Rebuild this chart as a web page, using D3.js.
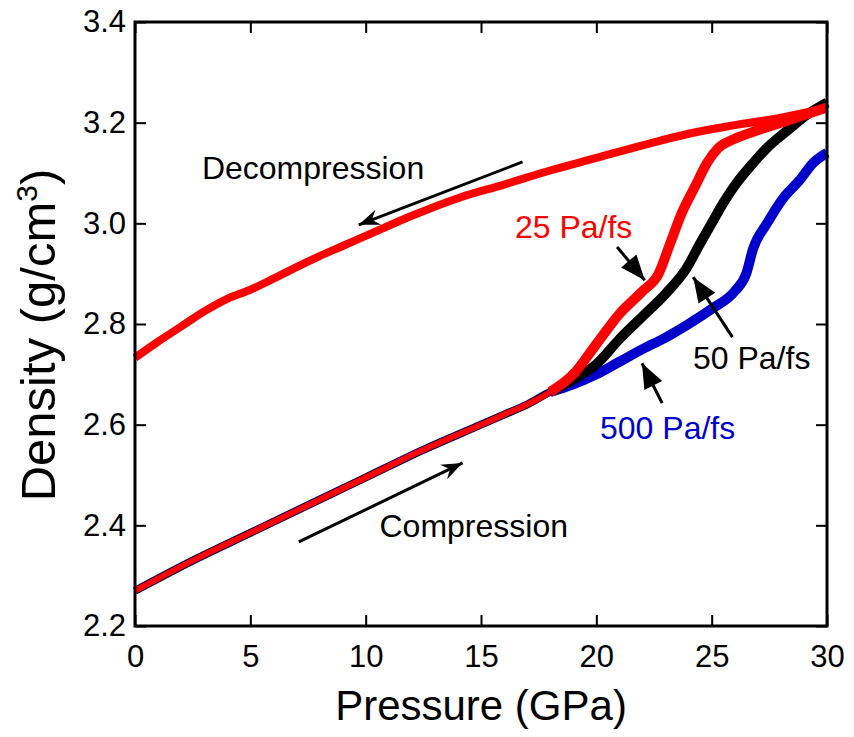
<!DOCTYPE html>
<html>
<head>
<meta charset="utf-8">
<script src="https://cdn.jsdelivr.net/npm/d3@7"></script>
<style>
  body { margin: 0; background: #fff; }
  text { font-family: "Liberation Sans", Arial, Helvetica, sans-serif; }
</style>
</head>
<body>
<div id="chart"></div>
<script>
// shared compression branch (all three rates overlap here)
const compressionP = [0, 2.5, 5, 7.5, 10, 12.5, 15, 16, 17, 18];
const compressionD = [2.27, 2.33, 2.385, 2.44, 2.495, 2.55, 2.60, 2.62, 2.64, 2.665];

// transition branches, one per compression rate
const rate25P = [19, 20, 21, 22, 22.7, 23.2, 23.7, 24.3, 24.8, 25.3, 26, 27, 28, 29, 30];
const rate25D = [2.70, 2.76, 2.82, 2.865, 2.90, 2.96, 3.02, 3.075, 3.12, 3.15, 3.168, 3.185, 3.20, 3.215, 3.23];

const rate50P = [19, 20, 21, 22, 23, 23.9, 24.5, 25, 25.5, 26, 26.8, 27.4, 28.3, 29.1, 30];
const rate50D = [2.69, 2.72, 2.77, 2.815, 2.86, 2.91, 2.96, 3.0, 3.04, 3.075, 3.12, 3.15, 3.185, 3.215, 3.24];

const rate500P = [19, 20, 21, 22, 23, 24, 25, 26, 26.5, 26.8, 27.4, 28.1, 28.8, 29.4, 30];
const rate500D = [2.68, 2.70, 2.725, 2.75, 2.773, 2.80, 2.83, 2.865, 2.90, 2.95, 3.0, 3.05, 3.085, 3.12, 3.14];

// decompression (25 Pa/fs run, from 30 GPa back to 0)
const decompP = [0, 1, 2, 3, 4, 5, 6, 7, 8, 9, 10, 12, 14, 16, 18, 20, 22, 24, 26, 28, 30];
const decompD = [2.733, 2.765, 2.795, 2.825, 2.85, 2.868, 2.89, 2.913, 2.935, 2.955, 2.975, 3.015, 3.05, 3.077, 3.105, 3.13, 3.155, 3.178, 3.195, 3.21, 3.23];

const xTicks = [0, 5, 10, 15, 20, 25, 30];
const yTicks = [2.2, 2.4, 2.6, 2.8, 3.0, 3.2, 3.4];

const width = 854, height = 737;
const margin = {top: 22, right: 27, bottom: 111, left: 135};
const innerW = width - margin.left - margin.right;
const innerH = height - margin.top - margin.bottom;

const svg = d3.select("#chart").append("svg")
    .attr("width", width)
    .attr("height", height);

const g = svg.append("g")
    .attr("transform", `translate(${margin.left},${margin.top})`);

const x = d3.scaleLinear().domain([0, 30]).range([0, innerW]);
const y = d3.scaleLinear().domain([2.2, 3.4]).range([innerH, 0]);

const zip = (ps, ds) => ps.map((p, i) => ({p: p, d: ds[i]}));
const compression = zip(compressionP, compressionD);
const lastComp = compression[compression.length - 1];

// full curves, then the noisier transition part drawn wider on top
const series = [
    {color: "#0000cc", pts: compression.concat(zip(rate500P, rate500D)), w: 8},
    {color: "#000000", pts: compression.concat(zip(rate50P, rate50D)), w: 7},
    {color: "#ff0000", pts: compression.concat(zip(rate25P, rate25D)), w: 6},
    {color: "#0000cc", pts: [lastComp].concat(zip(rate500P, rate500D)), w: 10},
    {color: "#000000", pts: [lastComp].concat(zip(rate50P, rate50D)), w: 10},
    {color: "#ff0000", pts: [lastComp].concat(zip(rate25P, rate25D)), w: 10},
    {color: "#ff0000", pts: zip(decompP, decompD), w: 8}
];

const line = d3.line()
    .x(d => x(d.p))
    .y(d => y(d.d))
    .curve(d3.curveMonotoneX);

g.append("g").selectAll("path")
    .data(series)
    .join("path")
    .attr("fill", "none")
    .attr("stroke", d => d.color)
    .attr("stroke-width", d => d.w)
    .attr("stroke-linejoin", "round")
    .attr("d", d => line(d.pts));

// axes, ticks pointing inward
const tickFont = "31px";
g.append("g")
    .attr("transform", `translate(0,${innerH})`)
    .call(d3.axisBottom(x).tickValues(xTicks).tickSize(-11).tickSizeOuter(0).tickPadding(19));
g.append("g")
    .call(d3.axisLeft(y).tickValues(yTicks).tickSize(-11).tickSizeOuter(0).tickPadding(9).tickFormat(d3.format(".1f")));
g.append("g")
    .call(d3.axisTop(x).tickValues(xTicks).tickSize(-11).tickSizeOuter(0).tickFormat(""));
g.append("g")
    .attr("transform", `translate(${innerW},0)`)
    .call(d3.axisRight(y).tickValues(yTicks).tickSize(-11).tickSizeOuter(0).tickFormat(""));

g.selectAll(".domain").remove();
g.selectAll(".tick line").attr("stroke", "#000").attr("stroke-width", 2);
g.selectAll(".tick text").style("font-size", tickFont).attr("fill", "#000");

g.append("rect")
    .attr("width", innerW)
    .attr("height", innerH)
    .attr("fill", "none")
    .attr("stroke", "#000")
    .attr("stroke-width", 3);

// axis labels
svg.append("text")
    .attr("x", margin.left + innerW / 2)
    .attr("y", 720)
    .attr("text-anchor", "middle")
    .style("font-size", "42px")
    .text("Pressure (GPa)");

const yLab = svg.append("text")
    .attr("transform", `translate(55,335) rotate(-90)`)
    .attr("text-anchor", "middle")
    .style("font-size", "49px");
yLab.append("tspan").text("Density (g/cm");
yLab.append("tspan").attr("dy", -18).style("font-size", "30px").text("3");
yLab.append("tspan").attr("dy", 18).text(")");

// arrowheads
const defs = svg.append("defs");
defs.append("marker")
    .attr("id", "barb")
    .attr("viewBox", "-22 -9 24 18")
    .attr("refX", 0).attr("refY", 0)
    .attr("markerWidth", 24).attr("markerHeight", 18)
    .attr("markerUnits", "userSpaceOnUse")
    .attr("orient", "auto")
    .append("path")
    .attr("d", "M0,0 L-21,-8 L-14,0 L-21,8 Z")
    .attr("fill", "#000");
defs.append("marker")
    .attr("id", "tri")
    .attr("viewBox", "-26 -11 28 22")
    .attr("refX", 0).attr("refY", 0)
    .attr("markerWidth", 28).attr("markerHeight", 22)
    .attr("markerUnits", "userSpaceOnUse")
    .attr("orient", "auto")
    .append("path")
    .attr("d", "M0,0 L-25,-10 L-25,10 Z")
    .attr("fill", "#000");

// annotation arrows: [fromP, fromD, toP, toD, marker]
const arrows = [
    [16.8, 3.122, 9.7, 2.997, "barb"],
    [7.1, 2.367, 14.2, 2.524, "barb"],
    [20.9, 2.953, 22.1, 2.887, "tri"],
    [25.9, 2.774, 24.2, 2.893, "tri"],
    [22.85, 2.643, 21.98, 2.722, "tri"]
];
g.append("g").selectAll("line")
    .data(arrows)
    .join("line")
    .attr("x1", d => x(d[0])).attr("y1", d => y(d[1]))
    .attr("x2", d => x(d[2])).attr("y2", d => y(d[3]))
    .attr("stroke", "#000")
    .attr("stroke-width", 3)
    .attr("marker-end", d => `url(#${d[4]})`);

// annotation labels: [text, P, D, color]
const labels = [
    ["Decompression", 2.9, 3.088, "#000"],
    ["Compression", 10.6, 2.377, "#000"],
    ["25 Pa/fs", 16.47, 2.971, "#ff0000"],
    ["50 Pa/fs", 24.19, 2.711, "#000"],
    ["500 Pa/fs", 20.16, 2.571, "#0000cc"]
];
g.append("g").selectAll("text")
    .data(labels)
    .join("text")
    .attr("x", d => x(d[1]))
    .attr("y", d => y(d[2]))
    .attr("fill", d => d[3])
    .style("font-size", "32px")
    .text(d => d[0]);
</script>
</body>
</html>
